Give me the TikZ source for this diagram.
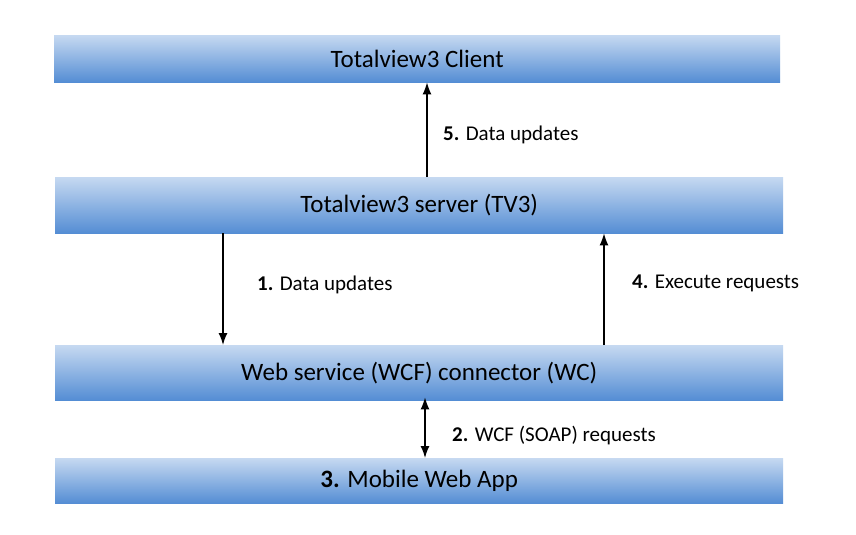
\documentclass[tikz,border=0pt]{standalone}
\usepackage{fontspec}
\setmainfont{Carlito}
\usetikzlibrary{arrows.meta}
\definecolor{barlight}{RGB}{198,217,241}
\definecolor{barmid}{RGB}{150,183,228}
\definecolor{bardark}{RGB}{84,141,212}
\begin{document}
\begin{tikzpicture}[x=1pt,y=-1pt,
  bar/.style={rectangle,inner sep=0pt,anchor=north west,top color=barlight,middle color=barmid,bottom color=bardark,font=\fontsize{25}{30}\selectfont},
  tip/.style={Latex[length=12pt,width=9pt]},
  conn/.style={line width=1.4pt,-{Latex[length=12pt,width=9pt]}},
  lbl/.style={anchor=west,inner sep=0pt,font=\fontsize{21}{25}\selectfont}]
\useasboundingbox (0,0) rectangle (856,535);
\fill[white] (0,0) rectangle (856,535);
\node[bar,minimum width=726pt,minimum height=47pt] (client) at (54,35) {Totalview3 Client};
\node[bar,minimum width=728pt,minimum height=56pt] (server) at (55,177) {Totalview3 server (TV3)};
\node[bar,minimum width=728pt,minimum height=55pt] (wc) at (55,345) {Web service (WCF) connector (WC)};
\node[bar,minimum width=728pt,minimum height=45pt] (app) at (55,458) {\textbf{3.} Mobile Web App};
\coordinate (x5) at (427,0);
\coordinate (x1) at (223,0);
\coordinate (x4) at (604,0);
\coordinate (x2) at (425,0);
\draw[conn] (x5 |- server.north) -- (x5 |- client.south);
\draw[conn] (x1 |- server.south) -- (x1 |- wc.north);
\draw[conn] (x4 |- wc.north) -- (x4 |- server.south);
\draw[line width=1.4pt,{Latex[length=12pt,width=9pt]}-{Latex[length=12pt,width=9pt]}] ([yshift=3pt]x2 |- wc.south) -- (x2 |- app.north);
\node[lbl] (l5) at (443,135) {\textbf{5.} Data updates};
\node[lbl] (l1) at (257,285) {\textbf{1.} Data updates};
\node[lbl] (l4) at (632,283) {\textbf{4.} Execute requests};
\node[lbl] (l2) at (452,436) {\textbf{2.} WCF (SOAP) requests};
\end{tikzpicture}
\end{document}
